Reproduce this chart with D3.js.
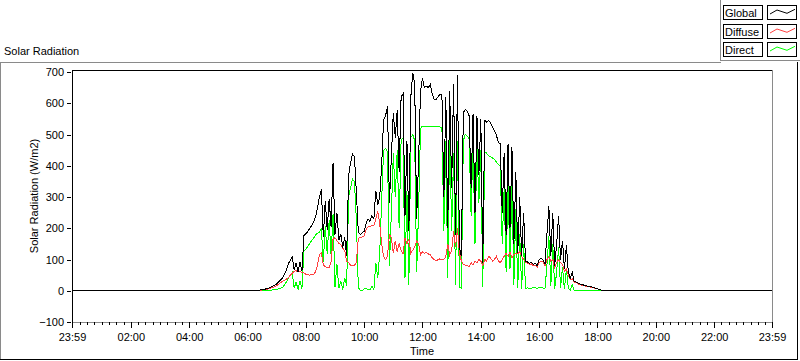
<!DOCTYPE html>
<html><head><meta charset="utf-8">
<script src="https://cdn.jsdelivr.net/npm/d3@7"></script>
<style>
body{margin:0;background:#fff;}
svg{display:block;}
svg text{font-family:"Liberation Sans",Arial,sans-serif;font-size:11px;fill:#000;}
</style></head><body>
<svg id="c" width="800" height="361"></svg>
<script>
const title = "Solar Radiation";
const yLabel = "Solar Radiation (W/m2)";
const xLabel = "Time";
const seriesNames = ["Global", "Diffuse", "Direct"];
const seriesColors = ["#000000", "#ff4040", "#00ff00"];
const yTicks = [-100, 0, 100, 200, 300, 400, 500, 600, 700];
const xTickLabels = ["23:59","02:00","04:00","06:00","08:00","10:00","12:00","14:00","16:00","18:00","20:00","22:00","23:59"];
const startTime = "06:00";
const stepMin = 4;

const globalVals = [
0,0,0,0,1,1,2,3,4,5,
7,9,11,15,18,22,28,35,40,52,
66,86,98,108,66,88,60,92,62,176,
182,190,200,209,220,236,265,300,324,172,
288,195,292,205,410,180,248,162,182,138,
172,110,368,410,437,430,315,188,180,186,
190,215,230,222,240,230,320,275,300,400,
548,560,590,280,430,570,490,578,380,620,
630,240,480,190,620,697,660,230,420,640,
680,650,655,650,660,630,612,612,620,630,
625,300,620,200,640,330,660,180,690,140,
110,570,580,575,560,330,565,250,560,370,
550,90,545,540,545,538,525,512,498,475,
470,250,440,180,470,200,460,150,380,120,
300,110,250,95,92,88,90,85,88,80,
100,105,98,85,180,270,110,250,80,150,
240,100,160,70,145,60,40,60,30,28,
25,22,20,18,16,14,13,12,10,8,
6,4,2,1,0,0,0,0,0,0,0];

const diffuseVals = [
0,0,0,0,0,0,1,2,3,4,
5,7,8,11,13,16,21,26,30,34,
37,42,50,56,62,64,60,63,58,57,
53,51,50,51,53,60,82,115,122,82,
77,74,73,92,165,170,160,152,148,136,
128,95,90,82,80,82,90,168,170,172,
176,196,205,204,210,208,230,255,215,150,
110,100,110,180,170,120,160,125,150,130,
118,170,150,165,120,130,140,160,150,115,
125,120,122,118,115,105,100,95,100,102,
98,100,110,150,115,130,190,140,200,120,
95,85,82,80,78,90,82,95,90,100,
95,80,100,95,110,105,95,100,110,95,
90,100,110,120,110,125,105,115,120,118,
125,110,100,92,88,84,86,80,82,75,
90,95,92,80,100,110,95,100,75,90,
100,90,85,62,70,50,36,38,28,26,
22,20,18,16,15,13,12,11,9,8,
6,4,2,1,0,0,0,0,0,0,0];

const directVals = [
0,0,0,0,0,0,0,0,0,0,
1,1,2,3,4,5,6,8,10,18,
28,40,50,58,8,28,4,32,6,128,
133,142,152,160,168,178,184,188,198,92,
208,118,225,112,245,12,85,8,32,4,
42,15,300,330,357,350,225,10,2,0,
6,8,4,2,14,4,90,40,120,290,
450,455,445,80,250,440,300,450,200,480,
490,40,320,20,490,500,480,60,260,520,
527,527,527,527,526,526,526,525,525,524,
522,190,480,40,505,190,440,20,480,10,
8,480,500,495,485,240,480,150,470,280,
450,12,445,440,432,430,425,420,412,405,
398,150,330,60,350,70,340,20,260,10,
180,6,150,8,9,7,8,10,9,8,
10,12,8,7,80,175,15,150,6,60,
140,10,75,5,70,8,3,20,2,2,
2,1,1,1,1,1,1,0,0,0,
0,0,0,0,0,0,0,0,0,0,0];

const svg = d3.select("#c");
const parseT = s => { const [h, m] = s.split(":").map(Number); return h * 60 + m; };
const tMin = -1, tMax = 1439;
const x = d3.scaleLinear().domain([tMin, tMax]).range([72, 772]);
const y = d3.scaleLinear().domain([-100, 700]).range([322, 72]);

// outer frame
const gray = "#8a8a8a";
function ln(x1, y1, x2, y2, c) {
  svg.append("line").attr("x1", x1).attr("y1", y1).attr("x2", x2).attr("y2", y2)
    .attr("stroke", c).attr("stroke-width", 1).attr("shape-rendering", "crispEdges");
}
ln(0, 62.5, 721, 62.5, gray);
ln(0.5, 62, 0.5, 360, gray);
ln(0, 359.5, 798, 359.5, "#000");
ln(797.5, 62, 797.5, 360, "#000");
// legend panel border
ln(720.5, 0, 720.5, 61, gray);
ln(720, 60.5, 800, 60.5, gray);

// title
svg.append("text").attr("x", 4).attr("y", 55).text(title);

// plot frame
ln(72.5, 70, 72.5, 323, "#000");
ln(72, 70.5, 773, 70.5, "#000");
ln(772.5, 70, 772.5, 323, gray);
ln(72, 322.5, 773, 322.5, gray);

// y axis
const yAxis = d3.axisLeft(y).tickValues(yTicks).tickSizeInner(4).tickSizeOuter(0).tickPadding(3);
const gy = svg.append("g").attr("transform", "translate(71,0)").call(yAxis);
gy.select(".domain").remove();
gy.selectAll("line").attr("shape-rendering", "crispEdges");

// x axis (major)
const majorT = xTickLabels.map((s, i) => { let t = parseT(s); if (i === 0) t -= 1440; return t; });
const xAxis = d3.axisBottom(x).tickValues(majorT).tickFormat((d, i) => xTickLabels[i])
  .tickSizeInner(6).tickSizeOuter(0).tickPadding(5);
const gx = svg.append("g").attr("transform", "translate(0,322)").call(xAxis);
gx.select(".domain").remove();
gx.selectAll("line").attr("shape-rendering", "crispEdges");
// minor ticks every 15 minutes
const minorT = d3.range(15, 1439, 15).filter(t => t % 120 !== 0);
const xMinor = d3.axisBottom(x).tickValues(minorT).tickFormat("").tickSizeInner(3).tickSizeOuter(0);
const gxm = svg.append("g").attr("transform", "translate(0,322)").call(xMinor);
gxm.select(".domain").remove();
gxm.selectAll("line").attr("shape-rendering", "crispEdges");

// axis labels
svg.append("text").attr("transform", "translate(38,196) rotate(-90)").attr("text-anchor", "middle").text(yLabel);
svg.append("text").attr("x", 422).attr("y", 355).attr("text-anchor", "middle").text(xLabel);

// data
svg.append("clipPath").attr("id", "clip").append("rect")
  .attr("x", 73).attr("y", 71).attr("width", 699).attr("height", 251);
const t0 = parseT(startTime);
function toPts(vals) {
  return [{ t: tMin, v: 0 }].concat(vals.map((v, i) => ({ t: t0 + stepMin * i, v })), [{ t: tMax, v: 0 }]);
}
const line = d3.line().x(d => x(d.t)).y(d => y(d.v));
const all = [globalVals, diffuseVals, directVals];
const gData = svg.append("g").attr("clip-path", "url(#clip)");
// draw Direct first, then Diffuse, Global on top
[2, 1, 0].forEach(k => {
  gData.append("path").attr("d", line(toPts(all[k]))).attr("fill", "none")
    .attr("stroke", seriesColors[k]).attr("stroke-width", 1)
    .attr("shape-rendering", "crispEdges");
});

// legend
const lg = svg.append("g");
seriesNames.forEach((name, k) => {
  const top = Math.round(5 + k * 18.5);
  lg.append("rect").attr("x", 723.5).attr("y", top + 0.5).attr("width", 39).attr("height", 14)
    .attr("fill", "#fff").attr("stroke", "#000").attr("shape-rendering", "crispEdges");
  lg.append("text").attr("x", 725).attr("y", top + 12).text(name);
  lg.append("rect").attr("x", 767.5).attr("y", top + 0.5).attr("width", 29).attr("height", 14)
    .attr("fill", "#fff").attr("stroke", "#000").attr("shape-rendering", "crispEdges");
  lg.append("polyline")
    .attr("points", [[770, top + 9], [777, top + 5], [787, top + 8.3], [795, top + 4.3]].map(p => p.join(",")).join(" "))
    .attr("fill", "none").attr("stroke", seriesColors[k]).attr("stroke-width", 1);
});
</script>
</body></html>
